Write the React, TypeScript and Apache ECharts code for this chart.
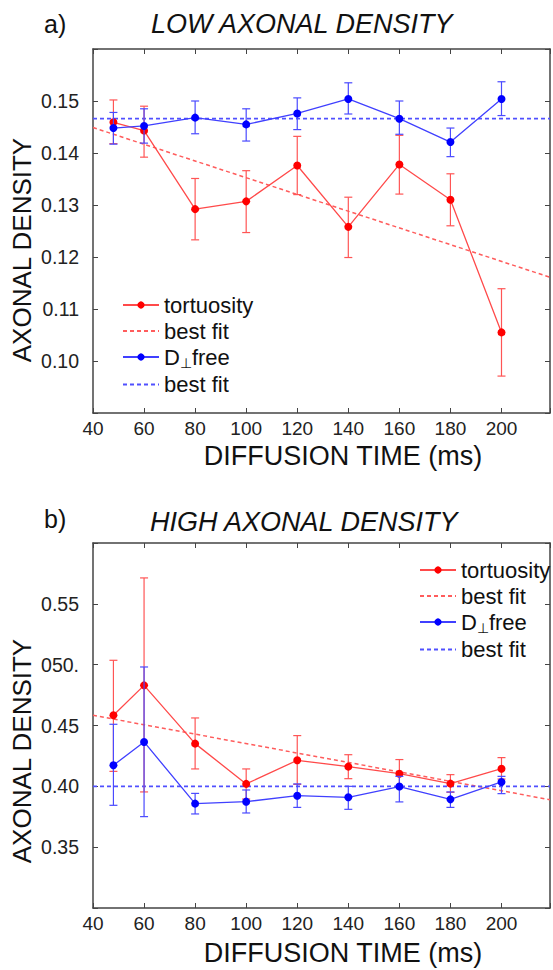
import React, { useEffect, useRef } from "react";
import * as echarts from "echarts";

const times = [48, 60, 80, 100, 120, 140, 160, 180, 200];

// Panel a) LOW AXONAL DENSITY
const lowTort = [0.1459, 0.1443, 0.1292, 0.1307, 0.1376, 0.1258, 0.1378, 0.131, 0.1055];
const lowTortLo = [0.1418, 0.1392, 0.1233, 0.1247, 0.132, 0.1199, 0.1321, 0.126, 0.0971];
const lowTortHi = [0.1502, 0.149, 0.1351, 0.1366, 0.1432, 0.1315, 0.1434, 0.136, 0.1139];
const lowFree = [0.1448, 0.1452, 0.1468, 0.1455, 0.1476, 0.1504, 0.1466, 0.1421, 0.1504];
const lowFreeLo = [0.1417, 0.1419, 0.1437, 0.1423, 0.1445, 0.1475, 0.1436, 0.1393, 0.1472];
const lowFreeHi = [0.1478, 0.1485, 0.15, 0.1485, 0.1506, 0.1535, 0.15, 0.1448, 0.1537];
const fitX = [40, 219];
const lowTortFit = [0.1449, 0.1161];
const lowFreeFit = [0.1466, 0.1466];

// Panel b) HIGH AXONAL DENSITY
const highTort = [0.4584, 0.483, 0.4351, 0.402, 0.4214, 0.4162, 0.4104, 0.4022, 0.4145];
const highTortLo = [0.4123, 0.3954, 0.4143, 0.3896, 0.4016, 0.4063, 0.3995, 0.3951, 0.406];
const highTortHi = [0.5036, 0.5713, 0.4562, 0.4143, 0.4417, 0.426, 0.422, 0.4096, 0.4236];
const highFree = [0.4173, 0.4365, 0.3858, 0.3874, 0.3923, 0.391, 0.3998, 0.3893, 0.4036];
const highFreeLo = [0.3844, 0.3751, 0.3773, 0.3781, 0.3827, 0.3811, 0.3872, 0.3827, 0.394];
const highFreeHi = [0.451, 0.4981, 0.3942, 0.397, 0.402, 0.40, 0.4082, 0.3954, 0.4082];
const highTortFit = [0.4584, 0.389];
const highFreeFit = [0.40, 0.40];

const lowYTicks: Record<string, string> = {
  "0.1": "0.10", "0.11": "0.11", "0.12": "0.12", "0.13": "0.13", "0.14": "0.14", "0.15": "0.15",
};
const highYTicks: Record<string, string> = {
  "0.35": "0.35", "0.4": "0.40", "0.45": "0.45", "0.5": "050.", "0.55": "0.55",
};
const xTickLabels = [40, 60, 80, 100, 120, 140, 160, 180, 200];

const FONT = "'Liberation Sans', Arial, sans-serif";
const RED = "#ff0000";
const RED_LINE = "#ff4a4a";
const BLUE = "#0000ff";
const BLUE_LINE = "#4040ff";
const AXIS = "#444";
const TEXT = "#111";

function errRender(color: string) {
  return (params: any, api: any) => {
    const x = api.value(0);
    const p1 = api.coord([x, api.value(1)]);
    const p2 = api.coord([x, api.value(2)]);
    const w = 4;
    const st = { stroke: color, lineWidth: 1.2 };
    return {
      type: "group",
      children: [
        { type: "line", shape: { x1: p1[0], y1: p1[1], x2: p2[0], y2: p2[1] }, style: st },
        { type: "line", shape: { x1: p1[0] - w, y1: p1[1], x2: p1[0] + w, y2: p1[1] }, style: st },
        { type: "line", shape: { x1: p2[0] - w, y1: p2[1], x2: p2[0] + w, y2: p2[1] }, style: st },
      ],
    };
  };
}

function zip(a: number[], b: number[]) {
  return a.map((v, i) => [v, b[i]]);
}
function zip3(a: number[], b: number[], c: number[]) {
  return a.map((v, i) => [v, b[i], c[i]]);
}

function panelSeries(
  xi: number,
  yi: number,
  tort: number[], tLo: number[], tHi: number[],
  free: number[], fLo: number[], fHi: number[],
  tFit: number[], fFit: number[]
) {
  return [
    {
      type: "line", name: "fitT", xAxisIndex: xi, yAxisIndex: yi, symbol: "none",
      data: zip(fitX, tFit), lineStyle: { color: "#ff5c5c", width: 1.5, type: [4, 3] }, itemStyle: { color: "#ff5c5c" }, z: 2,
    },
    {
      type: "line", name: "fitD", xAxisIndex: xi, yAxisIndex: yi, symbol: "none",
      data: zip(fitX, fFit), lineStyle: { color: "#5050ff", width: 1.8, type: [4, 3] }, itemStyle: { color: "#5050ff" }, z: 2,
    },
    {
      type: "custom", name: "errT", xAxisIndex: xi, yAxisIndex: yi, renderItem: errRender("#ff5555"),
      data: zip3(times, tLo, tHi), encode: { x: 0, y: [1, 2] }, z: 3,
    },
    {
      type: "line", name: "tortuosity", xAxisIndex: xi, yAxisIndex: yi, symbol: "circle", symbolSize: 8,
      data: zip(times, tort), lineStyle: { color: RED_LINE, width: 1.3 }, itemStyle: { color: RED }, z: 4,
    },
    {
      type: "custom", name: "errD", xAxisIndex: xi, yAxisIndex: yi, renderItem: errRender("#4a4aff"),
      data: zip3(times, fLo, fHi), encode: { x: 0, y: [1, 2] }, z: 5,
    },
    {
      type: "line", name: "Dfree", xAxisIndex: xi, yAxisIndex: yi, symbol: "circle", symbolSize: 8,
      data: zip(times, free), lineStyle: { color: BLUE_LINE, width: 1.3 }, itemStyle: { color: BLUE }, z: 6,
    },
  ];
}

const legendNames: Record<string, string> = {
  tortuosity: "tortuosity",
  fitT: "best fit",
  Dfree: "D{sub|⊥}free",
  fitD: "best fit",
};

function legend(left: number, top: number) {
  return {
    orient: "vertical",
    left,
    top,
    itemWidth: 36,
    itemHeight: 9,
    itemGap: 4,
    selectedMode: false,
    data: [
      "tortuosity",
      { name: "fitT", itemStyle: { opacity: 0 } },
      "Dfree",
      { name: "fitD", itemStyle: { opacity: 0 } },
    ],
    formatter: (n: string) => legendNames[n],
    textStyle: {
      fontFamily: FONT,
      fontSize: 22,
      lineHeight: 22,
      color: TEXT,
      rich: {
        sub: { fontFamily: FONT, fontSize: 14, padding: [11, 0, 0, 0], color: TEXT },
      },
    },
  };
}

function xAxes(grid: number) {
  const common = { type: "value", gridIndex: grid, min: 40, max: 219, interval: 20 };
  return [
    {
      ...common,
      position: "bottom",
      axisLine: { show: true, lineStyle: { color: AXIS, width: 1.5 } },
      axisTick: { inside: true, length: 5, lineStyle: { color: AXIS } },
      axisLabel: {
        fontFamily: FONT, fontSize: 19, color: "#222", margin: 6,
        formatter: (v: number) => (xTickLabels.indexOf(v) >= 0 ? String(v) : ""),
      },
      splitLine: { show: false },
    },
    {
      ...common,
      position: "top",
      axisLine: { show: true, lineStyle: { color: AXIS, width: 1.5 } },
      axisTick: { inside: true, length: 5, lineStyle: { color: AXIS } },
      axisLabel: { show: false },
      splitLine: { show: false },
    },
  ];
}

function yAxes(grid: number, min: number, max: number, interval: number, labels: Record<string, string>) {
  const common = { type: "value", gridIndex: grid, min, max, interval };
  return [
    {
      ...common,
      position: "left",
      axisLine: { show: true, lineStyle: { color: AXIS, width: 1.5 } },
      axisTick: { inside: true, length: 5, lineStyle: { color: AXIS } },
      axisLabel: {
        fontFamily: FONT, fontSize: 19.5, color: "#222", margin: 14,
        formatter: (v: number) => labels[String(Math.round(v * 1000) / 1000)] || "",
      },
      splitLine: { show: false },
    },
    {
      ...common,
      position: "right",
      axisLine: { show: true, lineStyle: { color: AXIS, width: 1.5 } },
      axisTick: { inside: true, length: 5, lineStyle: { color: AXIS } },
      axisLabel: { show: false },
      splitLine: { show: false },
    },
  ];
}

function txt(text: string, x: number, y: number, size: number, extra: any = {}) {
  return {
    type: "text",
    x,
    y,
    ...extra,
    style: { text, fontFamily: FONT, fontSize: size, fill: TEXT, textVerticalAlign: "middle", ...(extra.style || {}) },
  };
}

export default function App() {
  const ref = useRef<HTMLDivElement>(null);
  useEffect(() => {
    document.body.style.margin = "0";
    const chart = echarts.init(ref.current!, null, { renderer: "svg" });
    chart.setOption({
      animation: false,
      backgroundColor: "#fff",
      grid: [
        { left: 93, top: 49, width: 460, height: 364 },
        { left: 93, top: 543, width: 460, height: 365 },
      ],
      xAxis: [...xAxes(0), ...xAxes(1)],
      yAxis: [
        ...yAxes(0, 0.09, 0.16, 0.01, lowYTicks),
        ...yAxes(1, 0.3, 0.6, 0.05, highYTicks),
      ],
      legend: [legend(117, 289), legend(414, 554)],
      graphic: [
        txt("a)", 44, 24, 25),
        txt("LOW AXONAL DENSITY", 151, 24, 27, { style: { fontStyle: "italic" } }),
        txt("b)", 44, 519, 25),
        txt("HIGH AXONAL DENSITY", 150, 522, 27, { style: { fontStyle: "italic" } }),
        txt("DIFFUSION TIME (ms)", 343, 456, 27, { style: { textAlign: "center" } }),
        txt("DIFFUSION TIME (ms)", 343, 953, 27, { style: { textAlign: "center" } }),
        txt("AXONAL DENSITY", 22, 250, 26, { rotation: Math.PI / 2, style: { textAlign: "center" } }),
        txt("AXONAL DENSITY", 22, 751, 26, { rotation: Math.PI / 2, style: { textAlign: "center" } }),
      ],
      series: [
        ...panelSeries(0, 0, lowTort, lowTortLo, lowTortHi, lowFree, lowFreeLo, lowFreeHi, lowTortFit, lowFreeFit),
        ...panelSeries(2, 2, highTort, highTortLo, highTortHi, highFree, highFreeLo, highFreeHi, highTortFit, highFreeFit),
      ],
    });
    return () => chart.dispose();
  }, []);
  return <div ref={ref} style={{ width: 553, height: 970 }} />;
}
